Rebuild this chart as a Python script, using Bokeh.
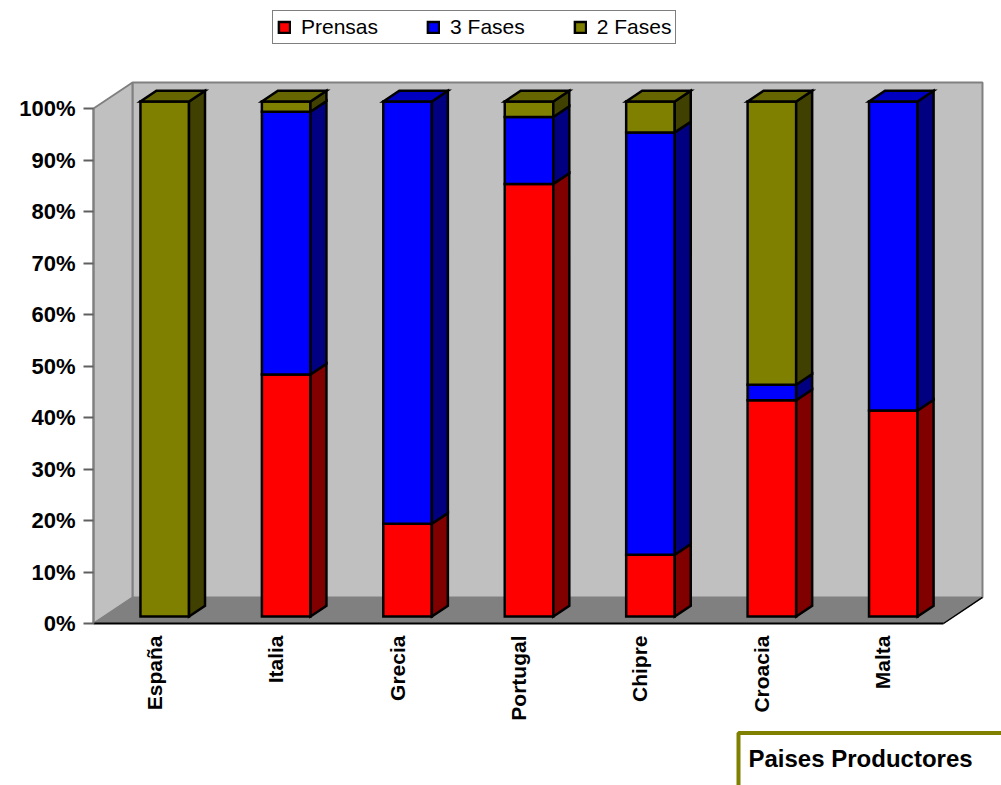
import math
from bokeh.plotting import figure
from bokeh.models import (Range1d, LinearAxis, FixedTicker, Legend, LegendItem,
                          Label, ColumnDataSource)
from bokeh.embed import file_html
from bokeh.resources import INLINE

# ---- data -------------------------------------------------------------
countries = ["España", "Italia", "Grecia", "Portugal", "Chipre", "Croacia", "Malta"]
series_names = ["Prensas", "3 Fases", "2 Fases"]
prensas = [0, 47, 18, 84, 12, 42, 40]
tres_fases = [0, 51, 82, 13, 82, 3, 60]
dos_fases = [100, 2, 0, 3, 6, 55, 0]
y_ticks = [0, 10, 20, 30, 40, 50, 60, 70, 80, 90, 100]
y_tick_labels = ["0%", "10%", "20%", "30%", "40%", "50%", "60%", "70%", "80%", "90%", "100%"]

series_values = [prensas, tres_fases, dos_fases]
front_colors = ["#FF0000", "#0000FF", "#808000"]
side_colors = ["#800000", "#000080", "#404000"]
top_colors = ["#C00000", "#0000C0", "#666600"]

# ---- 3-D look: oblique depth vector (data units) ----------------------
N = len(countries)
DEPTH_X = 0.321      # full wall depth along x (category units)
DEPTH_Y = 5.05       # full wall depth along y (percent units)
BAR_SHIFT = 0.27     # bar front face position within the depth
BAR_DEPTH = 0.41     # bar thickness as a fraction of the depth
BAR_W = 0.40
LEFT, RIGHT = -0.5, N - 0.5
Y_MAX = y_ticks[-1]

px_x = 121.43        # pixels per category
px_y = 5.15          # pixels per percent
p = figure(width=1001, height=785,
           x_range=Range1d(LEFT - 93 / px_x, LEFT + (1001 - 93) / px_x),
           y_range=Range1d(-(785 - 623) / px_y, 623 / px_y),
           x_axis_type=None, y_axis_type=None,
           output_backend="svg", toolbar_location=None,
           min_border=0, outline_line_color=None,
           background_fill_color="white", border_fill_color="white")

# walls and floor
p.patch(x=[LEFT + DEPTH_X, RIGHT + DEPTH_X, RIGHT + DEPTH_X, LEFT + DEPTH_X],
        y=[DEPTH_Y, DEPTH_Y, Y_MAX + DEPTH_Y, Y_MAX + DEPTH_Y],
        fill_color="#C0C0C0", line_color="#808080", line_width=2)
p.patch(x=[LEFT, LEFT + DEPTH_X, LEFT + DEPTH_X, LEFT],
        y=[0, DEPTH_Y, Y_MAX + DEPTH_Y, Y_MAX],
        fill_color="#C0C0C0", line_color="#808080", line_width=2)
p.patch(x=[LEFT, RIGHT, RIGHT + DEPTH_X, LEFT + DEPTH_X],
        y=[0, 0, DEPTH_Y, DEPTH_Y],
        fill_color="#808080", line_color="#808080", line_width=1)
p.line(x=[RIGHT, RIGHT + DEPTH_X], y=[0, DEPTH_Y], line_color="black", line_width=1.5)

# ---- stacked 3-D bars -------------------------------------------------
sx = BAR_SHIFT * DEPTH_X
sy = BAR_SHIFT * DEPTH_Y
bdx = BAR_DEPTH * DEPTH_X
bdy = BAR_DEPTH * DEPTH_Y

cum = [0] * N
top_seg = [None] * N
front_renderers = []
for s, vals in enumerate(series_values):
    xs_c, bots, tops = [], [], []
    side_xs, side_ys = [], []
    for i, v in enumerate(vals):
        if v <= 0:
            continue
        b, t = cum[i], cum[i] + v
        cum[i] = t
        xc = i + sx
        xr = xc + BAR_W / 2
        xs_c.append(xc)
        bots.append(b + sy)
        tops.append(t + sy)
        side_xs.append([xr, xr + bdx, xr + bdx, xr])
        side_ys.append([b + sy, b + sy + bdy, t + sy + bdy, t + sy])
        top_seg[i] = (s, t)
    src = ColumnDataSource(dict(x=xs_c, bottom=bots, top=tops))
    r = p.vbar(x="x", width=BAR_W, bottom="bottom", top="top", source=src,
               fill_color=front_colors[s], line_color="black", line_width=2.5,
               line_join="miter")
    front_renderers.append(r)
    p.patches(xs=side_xs, ys=side_ys, fill_color=side_colors[s],
              line_color="black", line_width=2.5, line_join="miter")

top_xs, top_ys, top_fill = [], [], []
for i, seg in enumerate(top_seg):
    s, t = seg
    xl = i + sx - BAR_W / 2
    xr = i + sx + BAR_W / 2
    top_xs.append([xl, xr, xr + bdx, xl + bdx])
    top_ys.append([t + sy, t + sy, t + sy + bdy, t + sy + bdy])
    top_fill.append(top_colors[s])
p.patches(xs=top_xs, ys=top_ys, fill_color=top_fill, line_color="black",
          line_width=2.5, line_join="miter")

# ---- axes -------------------------------------------------------------
FONT = "Liberation Sans"
yaxis = LinearAxis(fixed_location=LEFT, bounds=(0, Y_MAX),
                   ticker=FixedTicker(ticks=y_ticks),
                   major_label_overrides={t: l for t, l in zip(y_ticks, y_tick_labels)},
                   axis_line_color="#808080", axis_line_width=2,
                   major_tick_line_color="#606060", major_tick_line_width=2,
                   major_tick_out=10, major_tick_in=0, minor_tick_out=0, minor_tick_in=0,
                   major_label_standoff=8,
                   major_label_text_font=FONT, major_label_text_font_style="bold",
                   major_label_text_font_size="22px", major_label_text_color="black")
p.add_layout(yaxis, "left")

xaxis = LinearAxis(fixed_location=0, bounds=(LEFT, RIGHT),
                   ticker=FixedTicker(ticks=list(range(N))),
                   major_label_overrides={i: c for i, c in enumerate(countries)},
                   major_label_orientation=math.pi / 2,
                   axis_line_color="black", axis_line_width=2,
                   major_tick_out=0, major_tick_in=0, minor_tick_out=0, minor_tick_in=0,
                   major_label_standoff=12,
                   major_label_text_font=FONT, major_label_text_font_style="bold",
                   major_label_text_font_size="21px", major_label_text_color="black")
p.add_layout(xaxis, "below")

# ---- legend -----------------------------------------------------------
legend = Legend(items=[LegendItem(label=n, renderers=[r])
                       for n, r in zip(series_names, front_renderers)],
                location=(272, 741), orientation="horizontal",
                border_line_color="black", border_line_width=1.5,
                background_fill_color="white", background_fill_alpha=1,
                label_text_font=FONT, label_text_font_size="21px",
                label_text_color="black",
                glyph_width=14, glyph_height=14, label_standoff=10,
                spacing=48, padding=4, margin=0)
p.add_layout(legend)

# ---- axis title box ---------------------------------------------------
title_box = Label(x=738, y=18, x_units="screen", y_units="screen",
                  text="Paises Productores", text_font=FONT,
                  text_font_style="bold", text_font_size="24px",
                  text_color="black",
                  text_align="left", text_baseline="middle",
                  border_line_color="#808000", border_line_width=4,
                  background_fill_color="white",
                  padding=dict(left=10, right=60, top=12, bottom=30))
p.add_layout(title_box)

open("out.html", "w").write(file_html(p, INLINE))
